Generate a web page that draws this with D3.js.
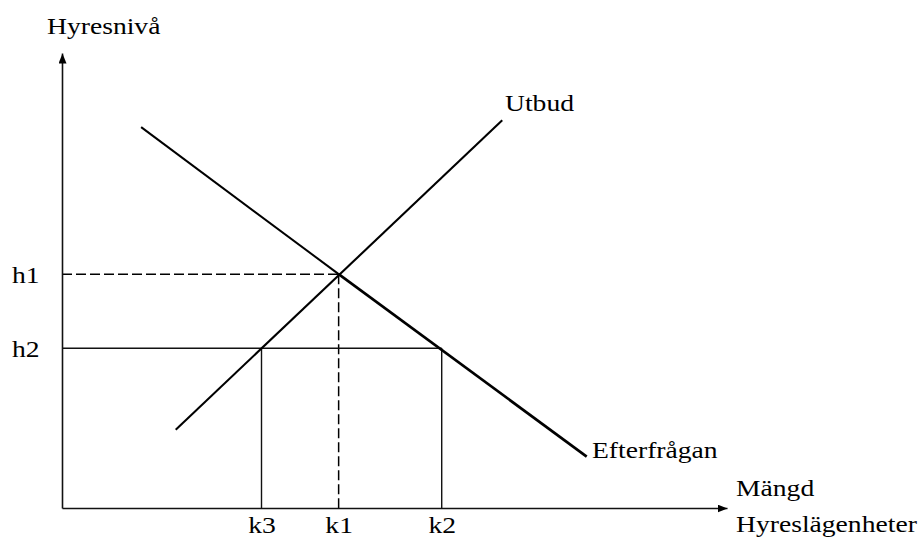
<!DOCTYPE html>
<html>
<head>
<meta charset="utf-8">
<script src="https://cdn.jsdelivr.net/npm/d3@7"></script>
<style>
    body { margin: 0; background: #fff; }
    svg { display: block; }
    text { font-family: "Liberation Serif", "Times New Roman", serif; fill: #000; }
</style>
</head>
<body>
<svg id="chart" width="923" height="538"></svg>
<script>
// kvantitet (x) och hyresnivå (y), godtyckliga enheter 0-100
const kTicks = [30, 41.6, 57.1];
const kLabels = ["k3", "k1", "k2"];
const hTicks = [51.4, 35.1];
const hLabels = ["h1", "h2"];

// efterfrågekurvan: övre och nedre del (nedre delen ritad kraftigare)
const demandUpper = [[11.9, 83.7], [41.6, 51.4]];
const demandLower = [[41.6, 51.4], [78.9, 11.3]];
const supply = [[17.1, 17.2], [66.2, 85.2]];

// hjälplinjer
const dashedLines = [
    [[0, 51.4], [41.6, 51.4]],
    [[41.6, 51.4], [41.6, 0]]
];
const solidLines = [
    [[0, 35.1], [57.1, 35.1]],
    [[30, 35.1], [30, 0]],
    [[57.1, 35.1], [57.1, 0]]
];

class SupplyDemand {
    constructor (element) {
        this.svg = d3.select(element);
        this.stretch = 1.15;
        this.x = d3.scaleLinear().domain([0, 100]).range([62, 727]);
        this.y = d3.scaleLinear().domain([0, 100]).range([508, 53]);
        this.line = d3.line().x(d => this.x(d[0])).y(d => this.y(d[1]));
        this.defs();
        this.drawGuides();
        this.drawCurves();
        this.drawAxis();
        this.drawLabels();
    }

    defs () {
        this.svg.append("defs").append("marker")
            .attr("id", "arrow")
            .attr("viewBox", "0 0 10 8")
            .attr("refX", 10)
            .attr("refY", 4)
            .attr("markerWidth", 10)
            .attr("markerHeight", 8)
            .attr("markerUnits", "userSpaceOnUse")
            .attr("orient", "auto")
            .append("path")
            .attr("d", "M0,0L10,4L0,8Z")
            .attr("fill", "#000");
    }

    drawGuides () {
        this.svg.append("g")
            .selectAll("path")
            .data(dashedLines)
            .enter()
            .append("path")
            .attr("d", this.line)
            .attr("fill", "none")
            .attr("stroke", "#000")
            .attr("stroke-width", 1.5)
            .attr("stroke-dasharray", "10,4");

        this.svg.append("g")
            .selectAll("path")
            .data(solidLines)
            .enter()
            .append("path")
            .attr("d", this.line)
            .attr("fill", "none")
            .attr("stroke", "#111")
            .attr("stroke-width", 1.4);
    }

    drawCurves () {
        const curves = [
            {pts: demandUpper, w: 2},
            {pts: demandLower, w: 2.7},
            {pts: supply, w: 2.1}
        ];
        this.svg.append("g")
            .selectAll("path")
            .data(curves)
            .enter()
            .append("path")
            .attr("d", d => this.line(d.pts))
            .attr("fill", "none")
            .attr("stroke", "#000")
            .attr("stroke-width", d => d.w);
    }

    drawAxis () {
        const s = this.stretch;
        let xAxis = this.svg.append("g")
            .attr("transform", "translate(0," + this.y(0) + ")")
            .call(d3.axisBottom(this.x)
                .tickValues(kTicks)
                .tickFormat((d, i) => kLabels[i])
                .tickSize(0)
                .tickSizeOuter(0));
        xAxis.select(".domain")
            .attr("stroke", "#111")
            .attr("stroke-width", 1.6)
            .attr("marker-end", "url(#arrow)");
        xAxis.selectAll("text")
            .attr("font-size", 24)
            .attr("font-family", null)
            .attr("y", 0)
            .attr("dy", 0)
            .attr("transform", "translate(0,25) scale(" + s + ",1)");

        let yAxis = this.svg.append("g")
            .attr("transform", "translate(" + this.x(0) + ",0)")
            .call(d3.axisLeft(this.y)
                .tickValues(hTicks)
                .tickFormat((d, i) => hLabels[i])
                .tickSize(0)
                .tickSizeOuter(0));
        yAxis.select(".domain")
            .attr("stroke", "#111")
            .attr("stroke-width", 1.6)
            .attr("marker-end", "url(#arrow)");
        yAxis.selectAll("text")
            .attr("font-size", 24)
            .attr("font-family", null)
            .attr("text-anchor", "start")
            .attr("x", 0)
            .attr("dy", "0.33em")
            .attr("transform", "translate(-50,0) scale(" + s + ",1)");
    }

    // texter vid axlarna och kurvorna
    drawLabels () {
        const s = this.stretch;
        const labels = [
            {t: "Hyresnivå", x: 47, y: 34},
            {t: "Utbud", x: 505, y: 111},
            {t: "Efterfrågan", x: 592, y: 458},
            {t: "Mängd", x: 736, y: 496},
            {t: "Hyreslägenheter", x: 736, y: 532}
        ];
        this.svg.append("g")
            .selectAll("text")
            .data(labels)
            .enter()
            .append("text")
            .attr("font-size", 24)
            .attr("transform", d => "translate(" + d.x + "," + d.y + ") scale(" + s + ",1)")
            .text(d => d.t);
    }
}

new SupplyDemand("#chart");
</script>
</body>
</html>
